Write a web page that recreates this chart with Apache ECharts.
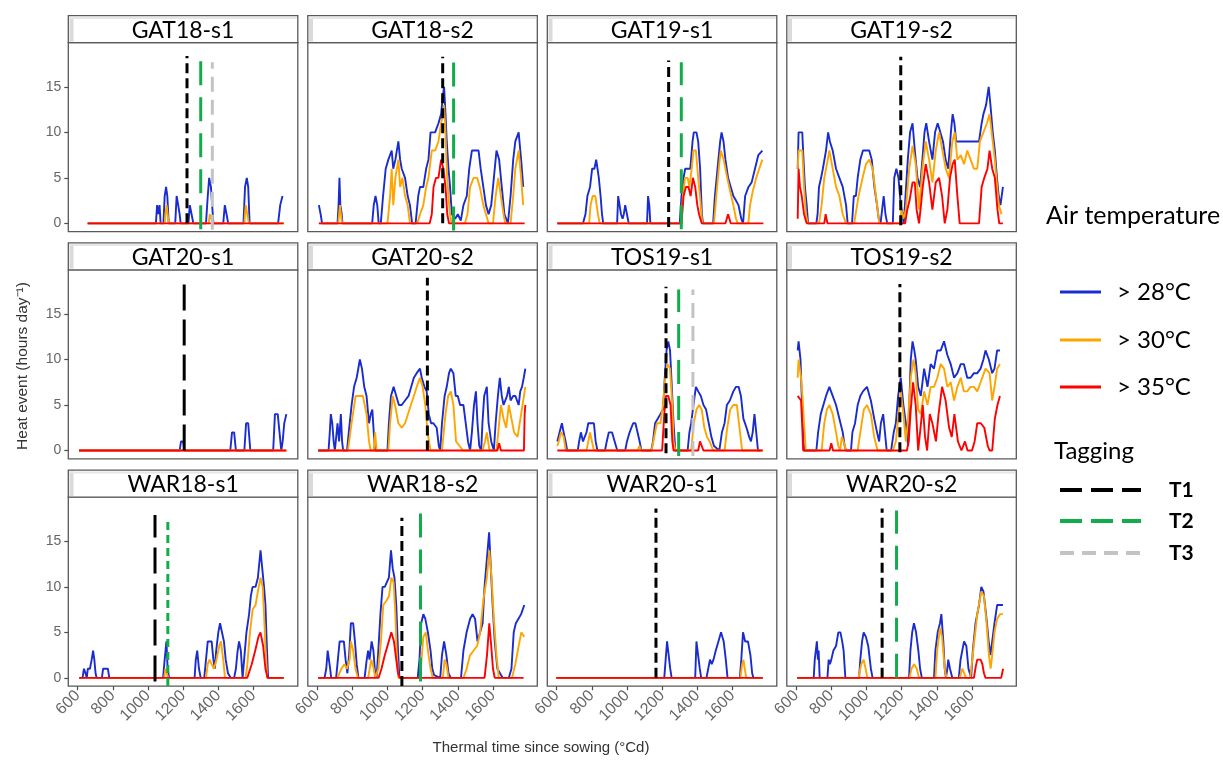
<!DOCTYPE html>
<html><head><meta charset="utf-8">
<script src="https://cdn.jsdelivr.net/npm/echarts@6/dist/echarts.min.js"></script>
<style>html,body{margin:0;padding:0;background:#fff}#c{width:1223px;height:761px}</style>
</head><body><div id="c"></div>
<script>
// ---------------- DATA ----------------
const panelNames = ['GAT18-s1','GAT18-s2','GAT19-s1','GAT19-s2','GAT20-s1','GAT20-s2','TOS19-s1','TOS19-s2','WAR18-s1','WAR18-s2','WAR20-s1','WAR20-s2'];
const xTicks = [600,800,1000,1200,1400,1600];
const yTicks = [0,5,10,15];
const legendTemp = ['> 28°C','> 30°C','> 35°C'];
const legendTag = ['T1','T2','T3'];

// GAT18-s1
const GAT18_s1_b = [[657,0],[1045,0],[1052,2],[1060,1],[1066,2],[1072,0],[1088,0],[1095,3],[1103,4],[1110,3],[1118,0],[1155,0],[1163,3],[1172,2],[1180,1],[1186,0],[1230,0],[1238,2],[1248,1],[1258,0],[1330,0],[1340,3],[1348,5],[1358,4],[1365,2],[1372,0],[1428,0],[1437,2],[1447,1],[1456,0],[1543,0],[1552,4],[1562,5],[1570,4],[1578,0],[1740,0],[1752,2],[1765,3]];
const GAT18_s1_o = [[657,0],[1095,0],[1100,1],[1106,2],[1112,1],[1118,0],[1345,0],[1352,1],[1362,1],[1368,0],[1548,0],[1556,2],[1566,2],[1574,0],[1772,0]];
const GAT18_s1_r = [[657,0],[1772,0]];
// GAT18-s2
const GAT18_s2_b = [[610,2],[620,1],[628,0],[716,0],[722,2],[727,5],[732,2],[740,1],[744,0],[913,0],[922,2],[932,3],[942,2],[950,0],[962,0],[975,3],[990,6],[1005,7],[1024,8],[1033,6],[1045,7],[1062,9],[1072,7],[1081,6],[1100,5],[1115,3],[1128,2],[1140,0],[1160,0],[1175,3],[1185,4],[1204,4],[1220,6],[1233,7],[1245,10],[1258,10],[1271,10],[1290,11],[1305,12],[1315,14],[1322,15],[1330,12],[1337,9],[1347,6],[1356,4],[1366,1],[1385,0.5],[1400,1],[1417,0.3],[1432,2],[1451,3],[1465,6],[1480,8],[1500,8],[1518,8],[1530,6],[1545,4],[1560,2],[1575,1],[1590,2],[1605,5],[1620,8],[1635,7],[1650,4],[1665,1],[1685,0],[1700,3],[1715,7],[1727,9],[1746,10],[1760,7],[1772,4]];
const GAT18_s2_o = [[610,0],[720,0],[725,1],[730,2],[735,1],[742,0],[1000,0],[1015,3],[1024,6],[1033,2],[1045,5],[1062,7],[1072,4],[1085,5],[1100,3],[1115,2],[1128,0],[1170,0],[1185,1],[1204,2],[1220,4],[1233,5],[1252,8],[1271,8],[1290,9],[1305,11],[1315,12],[1322,13],[1330,10],[1337,6],[1347,3],[1356,1],[1366,0],[1440,0],[1455,1],[1470,4],[1490,5],[1510,5],[1525,4],[1545,2],[1560,1],[1575,0],[1600,0],[1615,3],[1630,5],[1645,3],[1660,1],[1670,0],[1700,0],[1715,3],[1727,6],[1746,8],[1760,5],[1772,2]];
const GAT18_s2_r = [[610,0],[1240,0],[1252,1],[1262,4],[1276,5],[1290,5],[1305,7],[1318,6],[1330,4],[1340,1],[1350,0],[1780,0]];
// GAT19-s1
const GAT19_s1_b = [[604,0],[750,0],[764,1],[775,3],[790,4],[802,6],[815,6],[825,7],[840,5],[850,3],[858,1],[865,0],[944,0],[950,3],[958,2],[966,1],[975,0.5],[982,1],[990,2],[1000,1],[1010,0],[1114,0],[1120,3],[1127,2],[1133,0],[1300,0],[1310,3],[1322,5],[1331,6],[1345,6],[1360,6],[1373,9],[1380,10],[1395,10],[1405,9],[1416,6],[1426,1],[1432,0],[1490,0],[1500,3],[1510,5],[1520,7],[1530,9],[1538,10],[1549,9],[1560,7],[1575,5],[1590,4],[1605,3],[1620,2.5],[1634,2],[1650,0.5],[1660,0],[1672,3],[1691,4],[1709,4.5],[1728,6],[1747,7.5],[1770,8]];
const GAT19_s1_o = [[604,0],[785,0],[793,2],[805,3],[820,3],[835,1],[845,0],[1310,0],[1318,3],[1330,5],[1345,5],[1355,4],[1368,6],[1378,8],[1392,8],[1405,5],[1415,3],[1428,0],[1495,0],[1508,3],[1522,6],[1533,8],[1550,7],[1570,5],[1587,3.5],[1605,2],[1620,0.5],[1630,0],[1690,0],[1700,2],[1715,3.5],[1735,5],[1752,6],[1770,7]];
const GAT19_s1_r = [[604,0],[1310,0],[1322,3],[1335,4],[1350,4],[1362,3],[1375,5],[1388,4],[1400,2],[1410,1],[1425,0],[1560,0],[1575,1],[1590,0],[1776,0]];
// GAT19-s2
const GAT19_s2_b = [[609,6],[614,10],[625,10],[635,10],[642,7],[650,4],[660,2],[668,0],[715,0],[722,1],[730,4],[742,5],[752,6],[770,8],[782,10],[792,9],[808,8],[827,6],[846,5],[865,4],[884,2],[893,0],[918,0],[928,3],[940,3],[950,5],[965,7],[980,8],[997,8],[1016,8],[1030,7],[1045,4],[1060,2],[1070,0.5],[1080,0],[1090,0],[1098,3],[1108,1],[1118,0],[1150,0],[1158,5],[1170,6],[1182,5],[1195,2],[1205,1],[1212,0],[1222,3],[1235,7],[1248,10],[1262,11],[1275,8],[1290,5],[1305,4],[1318,7],[1330,10],[1340,11],[1356,9],[1375,7],[1390,10],[1405,11],[1420,10],[1435,9],[1450,7],[1465,6],[1480,10],[1490,12],[1500,11],[1510,9],[1520,9],[1540,9],[1560,9],[1580,9],[1600,9],[1620,9],[1640,9],[1655,11],[1665,12],[1680,13],[1695,15],[1705,13],[1718,10],[1730,8],[1742,5],[1752,3],[1762,2],[1776,4]];
const GAT19_s2_o = [[609,6],[614,8],[625,8],[635,8],[645,4],[656,1],[666,0],[730,0],[745,2],[760,5],[780,7],[789,8],[808,6],[827,4],[846,3],[865,1],[884,0],[930,0],[955,3],[978,5],[997,6.5],[1016,7],[1035,6],[1054,3],[1073,0],[1190,0],[1199,1.5],[1210,0.5],[1224,1.5],[1243,6],[1262,8.5],[1280,6.5],[1299,1.5],[1318,6],[1337,9],[1356,7],[1375,4.5],[1394,8],[1413,10],[1432,8],[1451,6],[1469,5],[1488,9],[1502,10],[1517,7],[1536,7.5],[1555,6.5],[1573,8],[1592,7],[1611,6],[1630,6],[1645,9],[1665,10],[1685,11],[1700,12],[1715,9.5],[1730,7],[1743,4],[1753,2],[1768,1]];
const GAT19_s2_r = [[609,0.5],[614,6],[622,4],[632,3],[645,1],[660,0],[760,0],[768,1],[778,0],[1220,0],[1232,1.5],[1245,2.5],[1262,4.5],[1275,4.5],[1285,1.5],[1299,0],[1310,2],[1320,4],[1337,6.5],[1356,4.5],[1375,1.5],[1394,4.5],[1413,5],[1430,3],[1445,0],[1460,1.5],[1475,5],[1490,6.5],[1502,7],[1517,3],[1530,0],[1640,0],[1655,4],[1670,5],[1688,6],[1700,8],[1715,6],[1730,5],[1745,1.5],[1755,0],[1776,0]];
// GAT20-s1
const GAT20_s1_b = [[608,0],[1180,0],[1188,1],[1200,1],[1208,0],[1468,0],[1478,2],[1490,2],[1500,0],[1548,0],[1558,3],[1570,3],[1582,0],[1712,0],[1722,4],[1738,4],[1748,2],[1758,0],[1766,1],[1775,3],[1787,4]];
const GAT20_s1_o = [[608,0],[1787,0]];
const GAT20_s1_r = [[608,0],[1787,0]];
// GAT20-s2
const GAT20_s2_b = [[606,0],[665,0],[672,2],[678,4],[686,3],[694,1],[701,0],[710,0],[716,3],[725,1],[735,4],[742,1],[748,0],[770,0],[780,2],[796,5],[810,7],[825,8],[843,10],[855,9],[868,7],[881,6],[895,3],[905,4],[914,4.5],[922,2],[930,0],[1000,0],[1008,3],[1020,6],[1035,7],[1050,6],[1065,5],[1081,5],[1100,5.5],[1120,6],[1135,7],[1150,8],[1166,8.5],[1185,9],[1195,8],[1210,7],[1223,6.5],[1235,4],[1248,3],[1261,3],[1280,2.5],[1292,0.5],[1300,0],[1310,3],[1325,6],[1337,7],[1350,8.5],[1360,9],[1375,8.5],[1388,6],[1400,6],[1413,5],[1432,5],[1445,3],[1458,1],[1470,0],[1480,2],[1492,5],[1503,6.5],[1512,3],[1522,0.5],[1533,0],[1540,3],[1550,6],[1565,7],[1575,3],[1590,1],[1605,0],[1615,3],[1628,6],[1639,8],[1650,6],[1660,5],[1670,5],[1680,6],[1690,7],[1700,5.5],[1715,6],[1727,6],[1746,5],[1755,6.5],[1765,7],[1775,8],[1784,9]];
const GAT20_s2_o = [[606,0],[775,0],[796,3],[819,6],[843,6],[860,6],[881,4],[895,1],[905,0],[922,0],[930,2],[938,0],[1005,0],[1015,3],[1030,6],[1043,5],[1062,3],[1081,2.5],[1100,3],[1125,4.5],[1150,6],[1175,7.5],[1185,8],[1200,7],[1215,5],[1228,2],[1245,0],[1310,0],[1330,4],[1345,6],[1360,6.5],[1375,5],[1390,1],[1410,0.5],[1430,0],[1540,0],[1555,1],[1565,2],[1580,0],[1620,0],[1630,2],[1645,5],[1660,3.5],[1675,2.5],[1690,5],[1705,3.5],[1720,2],[1740,1.5],[1760,4],[1784,7]];
const GAT20_s2_r = [[606,0],[1625,0],[1635,0.8],[1645,0],[1776,0],[1780,4],[1784,5]];
// TOS19-s1
const TOS19_s1_b = [[604,1],[617,2],[630,3],[640,2],[651,1],[660,0],[720,0],[728,1],[738,2],[750,1],[761,1],[770,2],[780,3],[795,3],[812,3],[822,1],[832,0],[875,0],[885,1],[897,2],[915,2],[930,1],[945,0],[990,0],[1000,1],[1015,2],[1035,3],[1048,3],[1060,2],[1072,1],[1082,0],[1138,0],[1148,1],[1160,3],[1175,3.5],[1190,4],[1205,4.5],[1215,8],[1225,11],[1235,12],[1245,11],[1255,7],[1265,3],[1275,0],[1345,0],[1355,2],[1365,3],[1378,5],[1392,7],[1405,6.5],[1420,6],[1435,5],[1450,4.5],[1465,3],[1480,1.5],[1495,0.5],[1525,0],[1540,2],[1555,3],[1568,5],[1585,5.5],[1605,6.5],[1620,7],[1635,7],[1648,6],[1662,3.5],[1680,2.5],[1695,1.5],[1705,1],[1715,2],[1725,4],[1735,2],[1745,0],[1760,0]];
const TOS19_s1_o = [[604,0.5],[612,1],[625,2],[640,1.5],[652,0],[770,0],[780,1],[790,2],[800,2],[812,0],[1060,0],[1070,0.5],[1082,0],[1140,0],[1155,1.5],[1170,3],[1190,3],[1205,5],[1218,8],[1230,9.5],[1245,9],[1258,5],[1265,1],[1275,0],[1365,0],[1380,3],[1395,4.5],[1410,5],[1425,4.5],[1440,2.5],[1455,1.5],[1470,1],[1490,0],[1555,0],[1570,2.5],[1587,4.5],[1605,5],[1625,5],[1640,2.5],[1655,0],[1772,0]];
const TOS19_s1_r = [[604,0],[1200,0],[1212,4],[1222,6],[1235,6],[1248,5],[1258,1],[1265,0],[1405,0],[1415,1],[1425,1],[1435,0],[1772,0]];
// TOS19-s2
const TOS19_s2_b = [[609,11],[614,12],[619,12],[625,10],[630,7],[636,4],[642,1],[647,0],[715,0],[725,2],[740,4],[755,5],[770,6],[789,7],[808,6],[827,5],[846,3.5],[865,2],[876,0.5],[884,0],[912,0],[920,2],[935,3],[950,5],[965,6],[980,6.5],[1003,7],[1025,5.5],[1044,3.5],[1060,2],[1072,1],[1082,3],[1095,4],[1105,2],[1115,0],[1140,0],[1155,2],[1167,3],[1180,6],[1195,8],[1210,5],[1224,3],[1237,0.5],[1245,6],[1252,10],[1262,12],[1272,11],[1280,10],[1294,7],[1309,6],[1328,9],[1347,7],[1365,9.5],[1384,9],[1403,11],[1422,11],[1441,12],[1460,10.5],[1479,9.5],[1498,8],[1517,8.5],[1536,9.5],[1554,9.5],[1573,8],[1592,8],[1611,8.5],[1630,8.5],[1649,9],[1665,10],[1677,11],[1696,10],[1715,8.5],[1728,9],[1743,11],[1759,11]];
const TOS19_s2_o = [[609,8],[614,10],[619,10],[628,8],[636,6],[645,3],[655,0],[745,0],[760,3],[775,4.5],[789,5],[808,4],[827,2],[840,0.5],[850,0],[860,1.5],[870,1],[884,0],[950,0],[965,2],[985,4.5],[1003,5],[1025,4],[1044,1.5],[1063,0],[1150,0],[1167,1],[1180,3.5],[1195,6.5],[1210,4],[1224,1],[1235,3],[1252,8],[1267,10],[1280,8.5],[1294,4.5],[1309,4],[1328,6.5],[1347,5],[1365,7],[1384,7],[1403,8],[1422,9.5],[1441,9],[1460,7],[1479,7.5],[1498,5.5],[1517,7],[1536,8],[1554,6.5],[1573,6.5],[1592,7],[1611,7],[1630,6.5],[1649,7.5],[1677,9],[1700,8.5],[1715,5.5],[1728,7],[1743,9],[1759,9.5]];
const TOS19_s2_r = [[609,6],[620,6],[628,5.5],[634,3],[640,0],[790,0],[800,0.8],[810,0],[1230,0],[1240,1],[1252,4.5],[1265,7.5],[1280,5],[1294,0],[1310,3],[1320,5],[1333,1.5],[1345,0],[1360,4],[1375,3],[1395,1],[1410,4],[1430,7],[1450,5.5],[1470,2.5],[1485,1.5],[1500,4],[1520,1],[1540,0],[1560,1],[1575,0],[1600,0],[1615,1],[1630,3],[1650,3],[1670,2.5],[1690,0.5],[1700,0],[1715,0],[1730,3.5],[1745,5],[1759,6]];
// WAR18-s1
const WAR18_s1_b = [[609,0],[628,0],[636,1],[645,0.5],[652,0],[658,1],[670,1],[680,2],[688,3],[695,2],[702,0.5],[708,0],[738,0],[745,1],[760,1],[772,1],[780,0],[1086,0],[1095,2],[1105,4],[1112,1],[1120,0],[1265,0],[1272,2],[1280,3],[1290,1],[1300,0],[1320,0],[1330,2],[1340,4],[1362,4],[1372,2],[1380,1],[1388,3],[1400,5],[1410,6],[1420,6],[1432,4],[1442,2],[1455,0.5],[1470,0],[1490,0],[1500,1],[1510,3],[1518,4],[1528,3],[1538,0],[1548,0],[1560,5],[1575,7],[1585,9],[1595,10],[1612,10],[1625,11],[1635,13],[1640,14],[1650,12],[1660,10],[1668,8],[1675,4],[1683,0],[1772,0]];
const WAR18_s1_o = [[609,0],[1092,0],[1100,1],[1108,1],[1115,0],[1330,0],[1340,1.5],[1350,2],[1362,1.5],[1375,1],[1390,2],[1405,3.5],[1415,4],[1428,2],[1438,0],[1555,0],[1565,1.5],[1580,5],[1595,7.5],[1612,8],[1625,9.5],[1640,11],[1652,10],[1660,7],[1668,3.5],[1678,0],[1772,0]];
const WAR18_s1_r = [[609,0],[1565,0],[1590,1.5],[1610,3],[1628,4.5],[1640,5],[1655,3.5],[1668,1],[1680,0],[1772,0]];
// WAR18-s2
const WAR18_s2_b = [[606,0],[642,0],[652,1],[660,3],[667,3],[674,1],[680,0],[708,0],[718,2],[728,4],[740,4],[752,4],[762,2],[772,0.5],[782,2.5],[792,6],[805,6],[815,4],[825,1.5],[835,0],[870,0],[882,2],[890,3],[898,2],[910,4],[920,3],[930,0.5],[938,0],[948,3],[960,7],[972,10],[985,10],[995,10],[1008,11],[1020,14],[1030,12],[1040,11],[1050,8],[1060,3],[1068,0],[1172,0],[1182,2],[1192,6],[1204,7],[1215,6.5],[1230,5],[1245,3],[1255,1],[1265,0.3],[1300,0],[1310,2.5],[1322,4],[1335,2.5],[1347,0.5],[1360,0],[1418,0],[1432,3],[1450,5],[1470,6.5],[1484,7],[1498,6.5],[1512,4],[1527,5],[1541,6],[1552,10],[1565,13],[1578,16],[1588,12],[1598,8],[1610,4],[1625,1],[1640,0.5],[1655,0],[1690,0],[1705,1],[1718,5],[1730,6],[1745,6.5],[1760,7],[1778,8]];
const WAR18_s2_o = [[606,0],[715,0],[738,1],[755,1.5],[770,1],[785,2],[792,4],[805,3],[818,1],[832,0],[890,0],[908,2],[922,1],[930,0],[948,1],[963,4],[976,8],[995,8.5],[1009,9],[1022,11],[1035,10.5],[1045,7],[1052,3],[1062,0],[1185,0],[1204,4.5],[1218,5],[1230,3],[1245,1],[1258,0],[1315,0],[1325,2],[1335,1.5],[1347,0],[1432,0],[1450,1],[1470,2.5],[1490,3],[1510,3.5],[1527,5],[1545,8.5],[1565,11],[1579,14],[1592,11],[1605,6.5],[1620,2.5],[1633,0],[1708,0],[1727,1.5],[1746,3.5],[1761,5],[1778,4.5]];
const WAR18_s2_r = [[606,0],[950,0],[966,1],[985,2.5],[1000,3.5],[1022,5],[1037,4],[1050,2],[1060,0.5],[1070,0],[1552,0],[1566,2.5],[1579,6],[1590,3.5],[1600,1],[1610,0],[1774,0]];
// WAR20-s1
const WAR20_s1_b = [[598,0],[1212,0],[1220,2],[1228,4],[1238,4],[1246,1],[1254,0],[1388,0],[1395,4],[1405,4],[1414,1],[1422,0],[1452,0],[1462,1],[1472,2],[1482,1.5],[1492,2],[1505,3],[1520,4],[1535,5],[1550,4],[1562,2],[1572,0],[1642,0],[1650,2],[1660,5],[1672,4],[1688,4],[1702,2.5],[1712,0.5],[1719,0],[1772,0]];
const WAR20_s1_o = [[598,0],[1645,0],[1655,1.5],[1662,2],[1670,1],[1678,0],[1772,0]];
const WAR20_s1_r = [[598,0],[1772,0]];
// WAR20-s2
const WAR20_s2_b = [[606,0],[700,0],[706,2],[712,3],[718,4],[724,2],[728,3],[734,0],[778,0],[785,2],[792,1.5],[800,2],[812,3],[827,3.5],[840,5],[852,5],[862,4],[870,3],[880,0],[958,0],[965,2],[975,4],[984,5],[997,4.5],[1010,3.5],[1025,1],[1035,0],[1242,0],[1250,3],[1260,5],[1270,6],[1282,5],[1295,3],[1305,1],[1315,0],[1384,0],[1392,3],[1405,5],[1418,6],[1426,7],[1437,4],[1445,1],[1452,0],[1460,1],[1465,2],[1475,1],[1488,0],[1525,0],[1535,2],[1545,3],[1555,4],[1568,3.5],[1580,1],[1595,0],[1605,3],[1620,6],[1640,8],[1653,10],[1665,9.5],[1680,7],[1695,4],[1705,2.5],[1715,4],[1728,6],[1743,8],[1760,8],[1776,8]];
const WAR20_s2_o = [[606,0],[955,0],[970,1.5],[984,2],[995,1],[1005,0],[1245,0],[1256,1],[1271,1.5],[1286,1],[1299,0],[1392,0],[1402,3],[1418,5.5],[1430,4.5],[1445,1],[1455,0],[1530,0],[1545,1],[1556,1],[1566,0],[1590,0],[1610,3.5],[1630,7],[1653,9.5],[1668,9],[1683,6],[1696,2.5],[1706,1],[1715,2.5],[1728,5],[1743,6.5],[1760,7],[1776,7]];
const WAR20_s2_r = [[606,0],[1611,0],[1621,1.2],[1630,2],[1649,2],[1659,1.5],[1668,0.5],[1677,0],[1766,0],[1777,1]];

// Tagging lines: x position and [bottom, top] extent per panel
const tagT1X = [1222,1314,1237,1195,1206,1227,1222,1190,1040,1082,1165,1089];
const tagT2X = [1300,1376,1309,null,null,null,1294,null,1113,1188,null,1171];
const tagT3X = [1366,null,null,null,null,null,1375,null,null,null,null,null];
const tagT1Span = [[0,18.4],[0,18.3],[-0.4,17.9],[-0.2,18.3],[0,19.0],[0,19.0],[-0.3,18.0],[-0.2,18.3],[-0.4,17.9],[-0.9,17.6],[0,18.6],[0,18.6]];
const tagT2Span = [[-0.65,17.8],[-0.8,17.7],[-0.65,17.7],null,null,null,[-0.6,17.7],null,[-0.9,17.4],[-0.4,18.1],null,[0,18.4]];
const tagT3Span = [[-0.7,17.7],null,null,null,null,null,[-0.6,17.7],null,null,null,null,null];

// ---------------- BUILD ----------------
const panelBlue = [GAT18_s1_b,GAT18_s2_b,GAT19_s1_b,GAT19_s2_b,GAT20_s1_b,GAT20_s2_b,TOS19_s1_b,TOS19_s2_b,WAR18_s1_b,WAR18_s2_b,WAR20_s1_b,WAR20_s2_b];
const panelOrange = [GAT18_s1_o,GAT18_s2_o,GAT19_s1_o,GAT19_s2_o,GAT20_s1_o,GAT20_s2_o,TOS19_s1_o,TOS19_s2_o,WAR18_s1_o,WAR18_s2_o,WAR20_s1_o,WAR20_s2_o];
const panelRed = [GAT18_s1_r,GAT18_s2_r,GAT19_s1_r,GAT19_s2_r,GAT20_s1_r,GAT20_s2_r,TOS19_s1_r,TOS19_s2_r,WAR18_s1_r,WAR18_s2_r,WAR20_s1_r,WAR20_s2_r];

const COL_LEFT = [68.3, 307.8, 547.3, 786.8], PW = 229.5;
const ROW_TOP = [42.7, 269.9, 497.2], PH = 189, STRIP_H = 27;
const XMIN = 547, XMAX = 1852, YMIN = -0.92, YMAX = 19.85;
const C_BLUE = '#1a2ccf', C_ORANGE = '#ffa500', C_RED = '#ff0000';
const C_T = ['#000000', '#12ad4b', '#c3c3c3'];
const BORDER = '#595959';
const dashDefault = [[10,5],[24,12],[15,8]];
const dashOverride = {4: {0: [26,9]}, 8: {0: [26,10], 1: [8,5]}};

const grids = [], xAxes = [], yAxes = [], series = [], graphics = [];
panelNames.forEach((name, i) => {
  const r = Math.floor(i / 4), c = i % 4;
  const left = COL_LEFT[c], top = ROW_TOP[r];
  grids.push({left: left, top: top, width: PW, height: PH, show: true, borderColor: BORDER, borderWidth: 1.3, backgroundColor: 'rgba(0,0,0,0)'});
  xAxes.push({type: 'value', gridIndex: i, min: XMIN, max: XMAX,
    axisLine: {show: false, onZero: false}, splitLine: {show: false},
    axisTick: {show: r === 2, customValues: xTicks, length: 4, lineStyle: {color: '#4d4d4d', width: 1.2}},
    axisLabel: {show: r === 2, customValues: xTicks, rotate: 45, margin: 7, color: '#666666', fontFamily: 'Liberation Sans', fontSize: 16, formatter: v => String(v)}});
  yAxes.push({type: 'value', gridIndex: i, min: YMIN, max: YMAX,
    axisLine: {show: false, onZero: false}, splitLine: {show: false},
    axisTick: {show: c === 0, customValues: yTicks, length: 4, lineStyle: {color: '#4d4d4d', width: 1.2}},
    axisLabel: {show: c === 0, customValues: yTicks, margin: 7, color: '#666666', fontFamily: 'Liberation Sans', fontSize: 14, formatter: v => String(v)}});
  const mk = (data, color) => ({type: 'line', xAxisIndex: i, yAxisIndex: i, data: data, symbol: 'none', silent: true,
    lineStyle: {color: color, width: 1.9}, itemStyle: {color: color}, animation: false, z: 3});
  series.push(mk(panelBlue[i], C_BLUE), mk(panelOrange[i], C_ORANGE), mk(panelRed[i], C_RED));
  [[tagT1X, tagT1Span], [tagT2X, tagT2Span], [tagT3X, tagT3Span]].forEach(([xs, spans], k) => {
    if (xs[i] == null) return;
    const dash = (dashOverride[i] && dashOverride[i][k]) || dashDefault[k];
    series.push({type: 'line', xAxisIndex: i, yAxisIndex: i, symbol: 'none', silent: true, animation: false, z: 4,
      data: [[xs[i], spans[i][0]], [xs[i], spans[i][1]]],
      lineStyle: {color: C_T[k], width: 3, type: dash, cap: 'butt'}});
  });
  // strip
  const sy = top - STRIP_H;
  graphics.push({type: 'rect', shape: {x: left, y: sy, width: PW, height: STRIP_H}, style: {fill: '#ffffff', stroke: BORDER, lineWidth: 1.3}, silent: true});
  graphics.push({type: 'rect', shape: {x: left + 1.2, y: sy + 1.2, width: 4, height: STRIP_H - 2.4}, style: {fill: '#dadada'}, silent: true});
  graphics.push({type: 'rect', shape: {x: left + 1.2, y: sy + 1.2, width: PW - 2.4, height: 2}, style: {fill: '#e6e6e6'}, silent: true});
  graphics.push({type: 'text', x: left + PW / 2, y: sy + STRIP_H / 2 + 1, silent: true,
    style: {text: name, font: '23px Lato', fill: '#000', textAlign: 'center', textVerticalAlign: 'middle'}});
});

// axis titles
graphics.push({type: 'text', x: 23, y: 366, rotation: Math.PI / 2, silent: true,
  style: {text: 'Heat event (hours day⁻¹)', font: '15.5px "Liberation Sans"', fill: '#333', textAlign: 'center', textVerticalAlign: 'middle'}});
graphics.push({type: 'text', x: 541, y: 748, silent: true,
  style: {text: 'Thermal time since sowing (°Cd)', font: '15px "Liberation Sans"', fill: '#333', textAlign: 'center', textVerticalAlign: 'middle'}});

// legend
graphics.push({type: 'text', x: 1046, y: 216, silent: true, style: {text: 'Air temperature', font: '25px Lato', fill: '#000', textAlign: 'left', textVerticalAlign: 'middle'}});
const legY = [292, 340, 387], legC = [C_BLUE, C_ORANGE, C_RED];
legendTemp.forEach((t, k) => {
  graphics.push({type: 'line', shape: {x1: 1060, y1: legY[k], x2: 1101, y2: legY[k]}, style: {stroke: legC[k], lineWidth: 3}, silent: true});
  graphics.push({type: 'text', x: 1117, y: legY[k], silent: true, style: {text: t, font: '24px Lato', fill: '#000', textAlign: 'left', textVerticalAlign: 'middle'}});
});
graphics.push({type: 'text', x: 1054, y: 451, silent: true, style: {text: 'Tagging', font: '24px Lato', fill: '#000', textAlign: 'left', textVerticalAlign: 'middle'}});
const tagY = [490, 521, 553], tagDash = [[22,9],[22,9],[14,8]];
legendTag.forEach((t, k) => {
  graphics.push({type: 'line', shape: {x1: 1060, y1: tagY[k], x2: 1141, y2: tagY[k]}, style: {stroke: C_T[k], lineWidth: 4, lineDash: tagDash[k]}, silent: true});
  graphics.push({type: 'text', x: 1169, y: tagY[k], silent: true, style: {text: t, font: 'bold 21px Lato', fill: '#000', textAlign: 'left', textVerticalAlign: 'middle'}});
});

const chart = echarts.init(document.getElementById('c'), null, {renderer: 'canvas', width: 1223, height: 761});
chart.setOption({
  animation: false,
  backgroundColor: '#ffffff',
  grid: grids, xAxis: xAxes, yAxis: yAxes, series: series,
  graphic: {elements: graphics}
});
</script>
</body></html>
